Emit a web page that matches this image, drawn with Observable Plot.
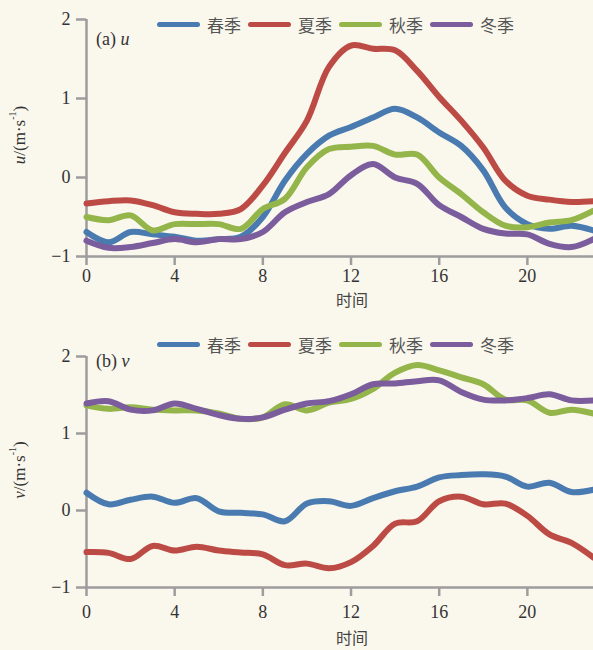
<!DOCTYPE html>
<html><head><meta charset="utf-8">
<script src="https://cdn.jsdelivr.net/npm/d3@7"></script>
<script src="https://cdn.jsdelivr.net/npm/@observablehq/plot@0.6"></script>
<style>
body{margin:0;background:#faf7ed;}
#wrap{position:relative;width:593px;height:650px;overflow:hidden;background:#faf7ed;}
.panel{position:absolute;left:0;}
#wrap svg text{font-family:"Liberation Serif","Times New Roman","DejaVu Serif",serif !important;}
#wrap svg text.cjk, #wrap svg .cjk text{font-family:"Noto Sans CJK SC",sans-serif !important;}
.legend{position:absolute;left:157px;display:flex;align-items:center;font-family:"Noto Sans CJK SC";font-size:17px;color:#555;line-height:1;}
.legend .sw{width:43px;height:5px;border-radius:3px;margin-right:7px;}
.legend .lb{margin-right:7px;}
</style>
</head><body>
<div id="wrap"></div>
<script>
const hours = [0,1,2,3,4,5,6,7,8,9,10,11,12,13,14,15,16,17,18,19,20,21,22,23];
const seasons = ["春季","夏季","秋季","冬季"];
const colors = ["#4a7bb0","#bd4b45","#93b54a","#7b5c9c"];
const xTicks = [0,4,8,12,16,20];
const yTicks = [-1,0,1,2];

const uSpring = [-0.69,-0.82,-0.69,-0.72,-0.75,-0.80,-0.78,-0.75,-0.50,-0.04,0.30,0.53,0.64,0.76,0.87,0.76,0.57,0.40,0.09,-0.38,-0.59,-0.65,-0.61,-0.67];
const uSummer = [-0.33,-0.30,-0.29,-0.35,-0.44,-0.46,-0.46,-0.40,-0.10,0.31,0.72,1.40,1.67,1.63,1.61,1.35,1.02,0.72,0.38,-0.04,-0.23,-0.28,-0.31,-0.30];
const uAutumn = [-0.50,-0.54,-0.48,-0.67,-0.59,-0.59,-0.59,-0.65,-0.40,-0.27,0.13,0.36,0.39,0.40,0.29,0.29,0.00,-0.21,-0.44,-0.61,-0.63,-0.57,-0.54,-0.42];
const uWinter = [-0.80,-0.89,-0.88,-0.83,-0.78,-0.82,-0.78,-0.78,-0.69,-0.44,-0.31,-0.21,0.03,0.17,0.00,-0.08,-0.35,-0.50,-0.65,-0.71,-0.72,-0.84,-0.88,-0.78];

const vSpring = [0.23,0.08,0.14,0.18,0.10,0.16,-0.01,-0.03,-0.05,-0.14,0.09,0.12,0.06,0.16,0.25,0.31,0.43,0.46,0.47,0.44,0.31,0.36,0.24,0.27];
const vSummer = [-0.54,-0.55,-0.63,-0.46,-0.52,-0.47,-0.52,-0.545,-0.57,-0.71,-0.69,-0.75,-0.67,-0.46,-0.17,-0.14,0.12,0.18,0.08,0.09,-0.07,-0.31,-0.42,-0.61];
const vAutumn = [1.365,1.32,1.34,1.31,1.30,1.30,1.26,1.19,1.21,1.38,1.30,1.40,1.45,1.58,1.79,1.89,1.82,1.73,1.64,1.44,1.43,1.27,1.31,1.26];
const vWinter = [1.39,1.42,1.31,1.30,1.39,1.32,1.24,1.19,1.21,1.31,1.39,1.42,1.51,1.64,1.65,1.68,1.69,1.54,1.44,1.43,1.46,1.51,1.43,1.43];

function table(series){
  const rows = [];
  series.forEach((vals, i) => vals.forEach((v, j) => rows.push({hour: hours[j], value: v, season: seasons[i]})));
  return rows;
}

const axisGray = "#9d9d9d";

function panel(data, opts){
  const svg = Plot.plot({
    width: 593, height: 325,
    marginLeft: 86, marginRight: 0, marginTop: opts.mt, marginBottom: opts.mb,
    style: {background: "transparent", color: "#333"},
    x: {domain: [0, 23]},
    y: {domain: [-1, 2]},
    color: {domain: seasons, range: colors},
    marks: [
      Plot.ruleX([0], {stroke: axisGray, strokeWidth: 2.5}),
      Plot.ruleY([-1], {stroke: axisGray, strokeWidth: 2.5}),
      Plot.axisY({ticks: yTicks, tickSize: 10, tickPadding: 6, stroke: axisGray, strokeWidth: 2.5, fill: "#333", fontSize: 18, label: null, tickFormat: d => d < 0 ? "\u2212" + Math.abs(d) : String(d)}),
      Plot.axisX({ticks: xTicks, tickSize: 9, tickPadding: opts.tp, stroke: axisGray, strokeWidth: 2.5, fill: "#333", fontSize: 18, label: null}),
      Plot.line(data, {x: "hour", y: "value", z: "season", stroke: "season", strokeWidth: 6, curve: "catmull-rom"}),
      Plot.text(["时间"], {frameAnchor: "bottom", dy: opts.xl, dx: 12, fontSize: 16, fill: "#444", className: "cjk"})
    ]
  });
  const s = d3.select(svg);
  const yl = s.append("text")
    .attr("transform", `translate(21,${opts.ylc}) rotate(-90)`)
    .attr("text-anchor", "middle").attr("dominant-baseline", "middle")
    .attr("font-size", 17).attr("fill", "#333");
  yl.append("tspan").attr("font-style", "italic").text(opts.comp);
  yl.append("tspan").text("/(m·s");
  yl.append("tspan").attr("font-size", 10).attr("dy", -7).text("-1");
  yl.append("tspan").attr("dy", 7).text(")");
  const pl = s.append("text")
    .attr("x", 96).attr("y", opts.plY)
    .attr("text-anchor", "start")
    .attr("dominant-baseline", "middle")
    .attr("font-size", 18).attr("fill", "#333");
  pl.append("tspan").text(opts.tag + " ");
  pl.append("tspan").attr("font-style", "italic").text(opts.comp);
  return svg;
}

function legend(top){
  const lg = document.createElement("div");
  lg.className = "legend";
  lg.style.top = (top - 9) + "px";
  seasons.forEach((s, i) => {
    const sw = document.createElement("span"); sw.className = "sw"; sw.style.background = colors[i];
    const lb = document.createElement("span"); lb.className = "lb"; lb.textContent = s;
    lg.appendChild(sw); lg.appendChild(lb);
  });
  return lg;
}

const wrap = document.getElementById("wrap");
const a = panel(table([uSpring, uSummer, uAutumn, uWinter]), {mt: 19, mb: 69, tp: 4, xl: 49, ylc: 135, comp: "u", tag: "(a)", plY: 41});
a.classList.add("panel"); a.style.top = "0px";
wrap.appendChild(a);
const b = panel(table([vSpring, vSummer, vAutumn, vWinter]), {mt: 31, mb: 63, tp: 9, xl: 56, ylc: 145, comp: "v", tag: "(b)", plY: 38});
b.classList.add("panel"); b.style.top = "325px";
wrap.appendChild(b);
wrap.appendChild(legend(25));
wrap.appendChild(legend(345));
</script>
</body></html>
